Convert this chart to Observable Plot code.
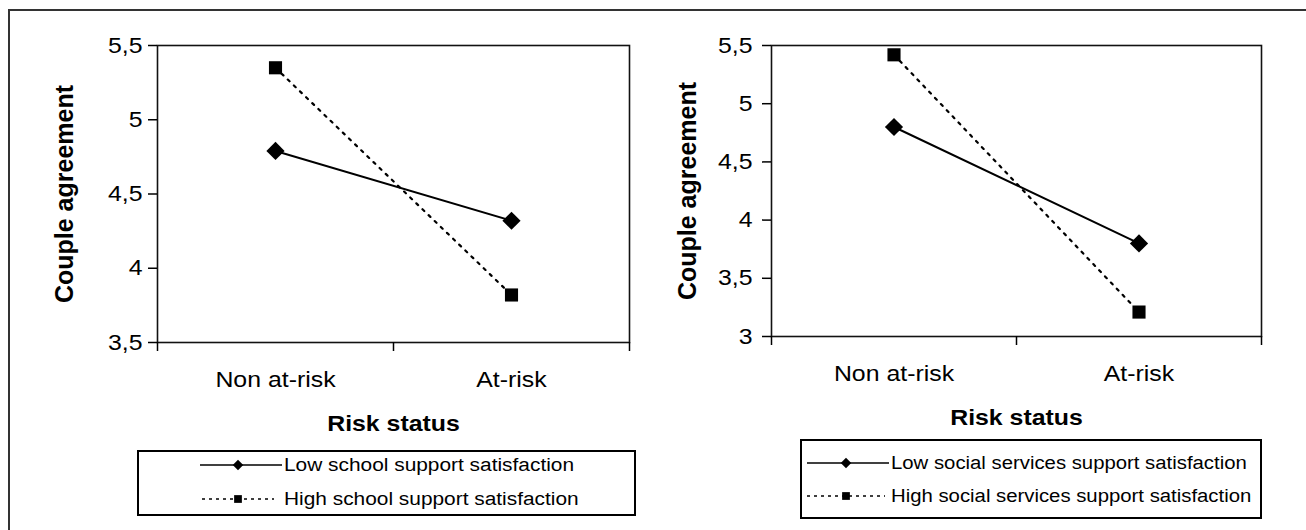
<!DOCTYPE html>
<html>
<head>
<meta charset="utf-8">
<script src="https://cdn.jsdelivr.net/npm/d3@7"></script>
<script src="https://cdn.jsdelivr.net/npm/@observablehq/plot@0.6"></script>
<style>
  html, body { margin: 0; padding: 0; background: #fff; }
  body { width: 1306px; height: 530px; overflow: hidden; position: relative; font-family: "Liberation Sans", Arial, sans-serif; }
  #frame { position: absolute; left: 8px; top: 9px; width: 1400px; height: 600px; border-top: 2px solid #333; border-left: 2px solid #333; }
  .panel { position: absolute; top: 0; }
  .legend { position: absolute; border: 2px solid #000; box-sizing: border-box; background: #fff; }
  .legend svg { position: absolute; left: -2px; top: -2px; overflow: visible; }
</style>
</head>
<body>
<div id="frame"></div>
<div id="left" class="panel" style="left:0px"></div>
<div id="right" class="panel" style="left:650px"></div>
<div id="legL" class="legend" style="left:137px;top:450px;width:499px;height:66px"></div>
<div id="legR" class="legend" style="left:800px;top:439px;width:462px;height:80px"></div>
<script>
// ---- data ----
const categories = ["Non at-risk", "At-risk"];
const leftLow = [4.79, 4.32];
const leftHigh = [5.35, 3.82];
const rightLow = [4.80, 3.80];
const rightHigh = [5.42, 3.21];
const leftTicks = [3.5, 4, 4.5, 5, 5.5];
const leftTickLabels = ["3,5", "4", "4,5", "5", "5,5"];
const rightTicks = [3, 3.5, 4, 4.5, 5, 5.5];
const rightTickLabels = ["3", "3,5", "4", "4,5", "5", "5,5"];
const leftSeries = ["Low school support satisfaction", "High school support satisfaction"];
const rightSeries = ["Low social services support satisfaction", "High social services support satisfaction"];
const xTitle = "Risk status";
const yTitle = "Couple agreement";

const FONT = "'Liberation Sans', Arial, Helvetica, sans-serif";
const SX = 1.13;

function stretchTexts(svg) {
  d3.select(svg).selectAll("text").each(function () {
    const tr = this.getAttribute("transform") || "";
    if (tr.includes("rotate")) return;
    const x = this.getAttribute("x");
    let pre = tr;
    if (x != null && !isNaN(+x)) { pre = `translate(${+x},0) ` + tr; this.removeAttribute("x"); }
    this.setAttribute("transform", pre + ` scale(${SX},1)`);
  });
}

function panel(opts) {
  const {low, high, ticks, tickLabels, width, height, margins, tickPadding, yLabelDx, titleDy} = opts;
  const n = categories.length;
  const mk = (vals) => vals.map((v, i) => ({pos: i + 0.5, cat: categories[i], v}));
  const lowRows = mk(low), highRows = mk(high);
  const svg = Plot.plot({
    width, height,
    ...margins,
    style: {fontFamily: FONT, background: "transparent", color: "#000", overflow: "visible"},
    x: {type: "linear", domain: [0, n], axis: null},
    y: {domain: [ticks[0], ticks[ticks.length - 1]], axis: null},
    marks: [
      Plot.frame({stroke: "#111", strokeWidth: 1.6}),
      Plot.axisY({ticks, tickFormat: (d) => tickLabels[ticks.indexOf(d)], tickSize: 9, tickPadding, fontSize: 22, strokeWidth: 1.5, label: null}),
      Plot.axisX({ticks: d3.range(n + 1), tickFormat: () => "", tickSize: 9, strokeWidth: 1.5, label: null}),
      Plot.axisX({ticks: lowRows.map((d) => d.pos), tickFormat: (d) => categories[Math.round(d - 0.5)], tickSize: 0, tickPadding: 29, fontSize: 22, label: null}),
      Plot.text([xTitle], {frameAnchor: "bottom", textAnchor: "middle", lineAnchor: "middle", dy: titleDy, fontSize: 22, fontWeight: "bold", fill: "#000"}),
      Plot.text([yTitle], {frameAnchor: "left", textAnchor: "middle", lineAnchor: "middle", rotate: -90, dx: yLabelDx, fontSize: 25, fontWeight: "bold", fill: "#000"}),
      Plot.line(highRows, {x: "pos", y: "v", stroke: "#000", strokeWidth: 2.2, strokeDasharray: "2.5,6"}),
      Plot.line(lowRows, {x: "pos", y: "v", stroke: "#000", strokeWidth: 2}),
      Plot.dot(lowRows, {x: "pos", y: "v", symbol: "diamond2", r: 8.2, fill: "#000", stroke: "none"}),
      Plot.dot(highRows, {x: "pos", y: "v", symbol: "square", r: 7.4, fill: "#000", stroke: "none"})
    ]
  });
  stretchTexts(svg);
  return svg;
}

document.getElementById("left").append(panel({
  low: leftLow, high: leftHigh, ticks: leftTicks, tickLabels: leftTickLabels,
  width: 650, height: 445,
  margins: {marginLeft: 157, marginRight: 21, marginTop: 45, marginBottom: 103},
  tickPadding: 6, yLabelDx: -93, titleDy: 81
}));

document.getElementById("right").append(panel({
  low: rightLow, high: rightHigh, ticks: rightTicks, tickLabels: rightTickLabels,
  width: 656, height: 445,
  margins: {marginLeft: 121, marginRight: 45, marginTop: 45, marginBottom: 109},
  tickPadding: 10, yLabelDx: -84, titleDy: 81
}));

function legend(id, names, g) {
  const el = document.getElementById(id);
  const svg = d3.select(el).append("svg").attr("width", g.w).attr("height", g.h);
  const styles = [
    {dash: null, sw: 1.5, sym: d3.symbolDiamond2, size: 70},
    {dash: "3,4", sw: 1.4, sym: d3.symbolSquare, size: 60}
  ];
  names.forEach((name, i) => {
    const y = g.rows[i], s = styles[i];
    const row = svg.append("g");
    row.append("line").attr("x1", g.x0[i]).attr("x2", g.x1[i]).attr("y1", y).attr("y2", y)
      .attr("stroke", "#000").attr("stroke-width", s.sw).attr("stroke-dasharray", s.dash);
    row.append("path").attr("d", d3.symbol(s.sym, s.size)()).attr("transform", `translate(${g.xm},${y})`).attr("fill", "#000");
    row.append("text").attr("transform", `translate(${g.xt},${y}) scale(${g.sx},1)`).attr("dy", "0.35em")
      .attr("font-family", FONT).attr("font-size", 18).attr("fill", "#000").text(name);
  });
}

legend("legL", leftSeries, {w: 499, h: 66, rows: [15, 49], x0: [63, 65], x1: [145, 137], xm: 101, xt: 147, sx: 1.16});
legend("legR", rightSeries, {w: 462, h: 80, rows: [24, 57], x0: [7, 7], x1: [89, 85], xm: 46, xt: 91, sx: 1.13});
</script>
</body>
</html>
